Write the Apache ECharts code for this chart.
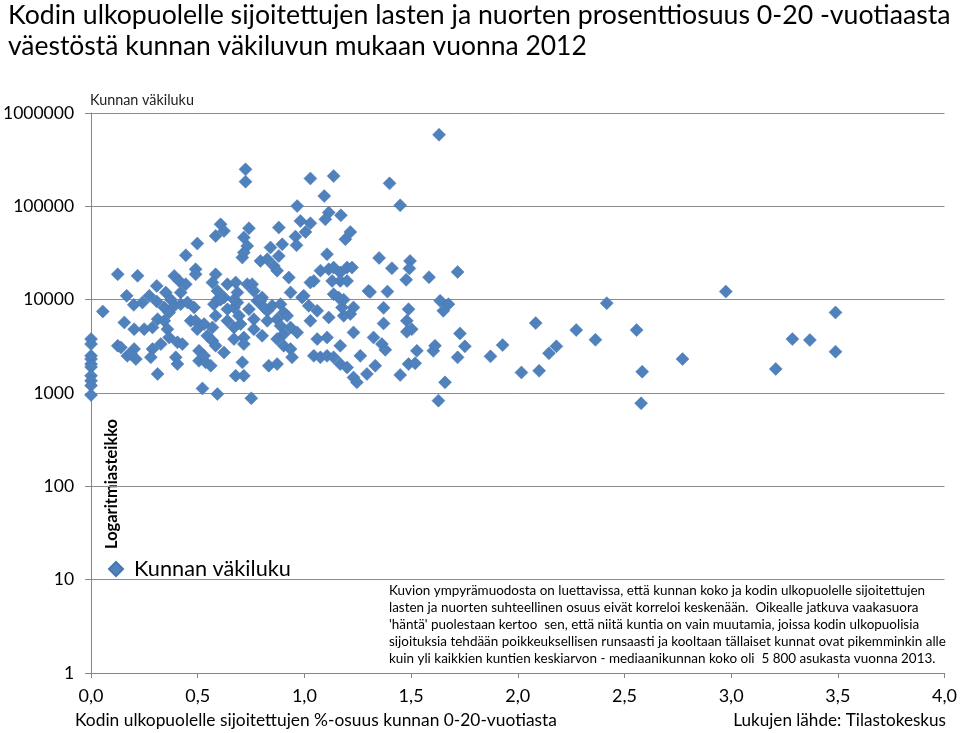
<!DOCTYPE html>
<html>
<head>
<meta charset="utf-8">
<script src="https://cdn.jsdelivr.net/npm/echarts@6/dist/echarts.min.js"></script>
<style>
html,body{margin:0;padding:0;background:#fff;}
#chart{width:960px;height:733px;}
</style>
</head>
<body>
<div id="chart"></div>
<script>
// ---- Data ----
const title1 = 'Kodin ulkopuolelle sijoitettujen lasten ja nuorten prosenttiosuus 0-20 -vuotiaasta';
const title2 = 'väestöstä kunnan väkiluvun mukaan vuonna 2012';
const seriesName = 'Kunnan väkiluku';
const yAxisName = 'Kunnan väkiluku';
const scaleNote = 'Logaritmiasteikko';
const xAxisName = 'Kodin ulkopuolelle sijoitettujen %-osuus kunnan 0-20-vuotiasta';
const sourceText = 'Lukujen lähde: Tilastokeskus';
const noteLines = [
  'Kuvion ympyrämuodosta on luettavissa, että kunnan koko ja kodin ulkopuolelle sijoitettujen',
  'lasten ja nuorten suhteellinen osuus eivät korreloi keskenään.  Oikealle jatkuva vaakasuora',
  "'häntä' puolestaan kertoo  sen, että niitä kuntia on vain muutamia, joissa kodin ulkopuolisia",
  'sijoituksia tehdään poikkeuksellisen runsaasti ja kooltaan tällaiset kunnat ovat pikemminkin alle',
  'kuin yli kaikkien kuntien keskiarvon - mediaanikunnan koko oli  5 800 asukasta vuonna 2013.'
];
const xTicks = [0, 0.5, 1, 1.5, 2, 2.5, 3, 3.5, 4];
const yTicks = [1, 10, 100, 1000, 10000, 100000, 1000000];

// x: % share placed outside home, y: municipality population
const osuus = [
  0,0,0,0,0,0,0,0,0,0,
  0.125,0.218,0.055,0.167,0.200,0.241,0.273,0.308,0.308,0.350,
  0.390,0.413,0.444,0.490,0.490,0.420,0.374,0.343,0.366,0.390,
  0.420,0.452,0.483,0.312,0.343,0.156,0.202,0.249,0.288,0.358,
  0.366,0.405,0.428,0.467,0.490,0.498,0.530,0.545,0.569,0.584,
  0.576,0.592,0.623,0.639,0.678,0.732,0.755,0.584,0.569,0.592,
  0.639,0.670,0.686,0.693,0.639,0.670,0.701,0.740,0.763,0.779,
  0.802,0.826,0.849,0.888,0.826,0.872,0.903,0.919,0.888,0.935,
  0.966,0.903,0.872,0.903,0.935,0.942,0.763,0.802,0.716,0.670,
  0.716,0.623,0.569,0.584,0.506,0.506,0.537,0.561,0.530,0.397,
  0.405,0.288,0.280,0.327,0.312,0.125,0.140,0.170,0.210,0.202,
  0.187,0.522,0.592,0.751,0.678,0.716,0.709,0.833,0.872,1.044,
  1.075,1.106,1.137,1.168,1.200,1.230,1.246,1.262,1.293,1.332,
  1.060,1.106,1.168,1.230,1.324,1.350,1.300,1.215,1.230,1.184,
  1.176,1.184,1.160,1.137,1.114,1.060,1.044,1.028,1.075,1.114,
  1.106,1.137,1.168,1.200,1.223,1.168,1.200,1.130,0.989,1.020,
  1.028,0.935,0.927,0.997,0.794,0.826,0.857,0.872,0.880,0.709,
  0.444,0.794,0.810,0.763,0.670,0.686,0.607,
  0.724,0.724,1.028,1.137,1.093,0.966,0.981,1.028,1.114,1.098,
  1.171,1.005,0.958,0.963,1.215,1.192,0.880,0.896,0.841,0.740,
  0.716,0.732,0.716,0.607,0.623,0.584,0.498,
  1.631,1.399,1.449,1.495,
  1.410,1.492,1.477,1.584,1.718,1.308,1.389,1.371,1.488,1.636,
  1.675,1.651,1.371,1.480,1.480,1.503,1.363,1.379,1.527,1.604,
  1.612,1.729,1.752,1.718,1.488,1.519,1.449,1.659,1.628,1.872,
  1.929,2.017,2.100,2.084,2.146,2.181,2.274,2.364,2.417,2.557,
  2.583,2.578,
  2.975,2.772,3.209,3.287,3.369,3.489,3.489
];
const vakiluku = [
  3780,3340,2500,2310,2040,1900,1530,1350,1200,950,
  18700,18000,7480,10990,8800,9330,10990,14050,9570,11940,
  17970,15890,14650,21200,18700,11940,10000,8260,7300,8590,
  8950,9330,8260,6180,5930,5700,4830,4830,5040,4830,
  3940,3490,3340,5930,5930,4830,5470,4100,5040,6710,
  8950,10000,10560,14650,15280,14650,14650,18700,15280,12420,
  7910,8260,9330,6710,5930,5040,5470,7910,6180,9710,
  10560,7590,8590,8950,5930,6180,7300,6710,5250,5040,
  4460,4280,3780,3210,2960,2410,4830,4100,3940,3780,
  3340,2720,3620,3210,2830,2210,2130,1960,2500,2410,
  2040,2960,2410,3340,1600,3210,3080,2500,2310,2960,
  2610,1120,975,877,1530,1530,2130,1960,2040,2500,
  2410,2500,2410,2040,1880,1470,1300,2500,1600,1960,
  3780,3940,3210,4460,3940,28000,12420,7000,8260,6710,
  8260,10000,10560,11450,6450,7590,15890,15280,20450,21200,
  30700,22100,19530,22100,22100,15890,15890,15890,10560,8590,
  5930,11940,17270,10990,26000,27100,23000,20450,29400,28300,
  29900,9710,8260,12420,10000,11940,10000,
  249000,183700,199000,211000,128800,100700,69600,65800,85700,72600,
  80100,53100,47400,38300,53100,44400,59200,39200,36200,58200,
  46300,37600,32000,64200,54500,48100,39900,
  585000,176200,102500,26000,
  21700,21600,16300,17400,19800,12100,12200,8170,7910,9710,
  8950,7590,5560,5930,4530,4830,3340,2900,2830,2830,
  3210,4350,3160,2410,2040,2080,1560,1300,828,2470,
  3260,1660,1730,5610,2660,3160,4720,3720,9180,4720,
  1690,776,
  12200,2310,1810,3780,3690,7300,2770
];

// ---- Styling helpers ----
const FONT = 'Lato, "Open Sans", sans-serif';
const mctx = document.createElement('canvas').getContext('2d');
function fit(text, weight, target) {
  mctx.font = weight + ' 100px ' + FONT;
  return 100 * target / mctx.measureText(text).width;
}
function fontStr(weight, size) { return weight + ' ' + size.toFixed(2) + 'px ' + FONT; }

const points = osuus.map((x, i) => [x, vakiluku[i]]);

const chart = echarts.init(document.getElementById('chart'), null, {renderer: 'canvas'});

const t1 = fit(title1, 'normal', 943);
const t2 = fit(title2, 'normal', 579);
const noteSize = fit(noteLines[3], 'normal', 557);
const graphics = [
  {type:'text', x:8, y:15, style:{text:title1, font:fontStr('normal', t1), fill:'#000', align:'left', verticalAlign:'middle'}},
  {type:'text', x:8, y:46, style:{text:title2, font:fontStr('normal', t2), fill:'#000', align:'left', verticalAlign:'middle'}},
  {type:'text', x:90, y:100, style:{text:yAxisName, font:fontStr('normal', fit(yAxisName,'normal',104)), fill:'#222', align:'left', verticalAlign:'middle'}},
  {type:'text', x:112, y:484, rotation:Math.PI/2, style:{text:scaleNote, font:fontStr('bold', fit(scaleNote,'bold',130)), fill:'#000', align:'center', verticalAlign:'middle'}},
  {type:'text', x:75, y:720, style:{text:xAxisName, font:fontStr('normal', fit(xAxisName,'normal',482)), fill:'#000', align:'left', verticalAlign:'middle'}},
  {type:'text', x:946, y:720, style:{text:sourceText, font:fontStr('normal', fit(sourceText,'normal',213)), fill:'#000', align:'right', verticalAlign:'middle'}}
];
noteLines.forEach((line, i) => {
  graphics.push({type:'text', x:389, y:591 + i * 17, style:{text:line, font:fontStr('normal', noteSize), fill:'#000', align:'left', verticalAlign:'middle'}});
});

const legendSize = fit(seriesName, 'normal', 157);

chart.setOption({
  animation: false,
  backgroundColor: '#fff',
  textStyle: {fontFamily: FONT},
  grid: {left: 90, right: 14, top: 113, height: 560, containLabel: false},
  legend: {
    left: 108, top: 558, padding: 0, icon: 'diamond', itemWidth: 14, itemHeight: 14,
    data: [seriesName],
    textStyle: {fontSize: legendSize, color: '#000', fontFamily: FONT, padding: [0, 0, 0, 6]}
  },
  xAxis: {
    type: 'value', min: 0, max: 4, interval: 0.5,
    axisLine: {show: true, onZero: false, lineStyle: {color: '#868686', width: 1}},
    axisTick: {show: true, length: 5, lineStyle: {color: '#868686'}},
    axisLabel: {fontSize: 18, color: '#000', margin: 14, fontFamily: FONT,
      formatter: v => v.toFixed(1).replace('.', ',')},
    splitLine: {show: false}
  },
  yAxis: {
    type: 'log', logBase: 10, min: yTicks[0], max: yTicks[yTicks.length - 1],
    axisLine: {show: true, lineStyle: {color: '#868686', width: 1}},
    axisTick: {show: true, length: 6, lineStyle: {color: '#868686'}},
    axisLabel: {fontSize: 17.5, color: '#000', margin: 17, fontFamily: FONT,
      formatter: v => String(Math.round(v))},
    splitLine: {show: true, lineStyle: {color: '#8c8c8c', width: 1}},
    minorTick: {show: false}
  },
  series: [{
    name: seriesName,
    type: 'scatter',
    symbol: 'diamond',
    symbolSize: 13,
    itemStyle: {color: '#4F81BD', opacity: 1, borderColor: '#4677b3', borderWidth: 0.5},
    data: points
  }],
  graphic: graphics
});
</script>
</body>
</html>
